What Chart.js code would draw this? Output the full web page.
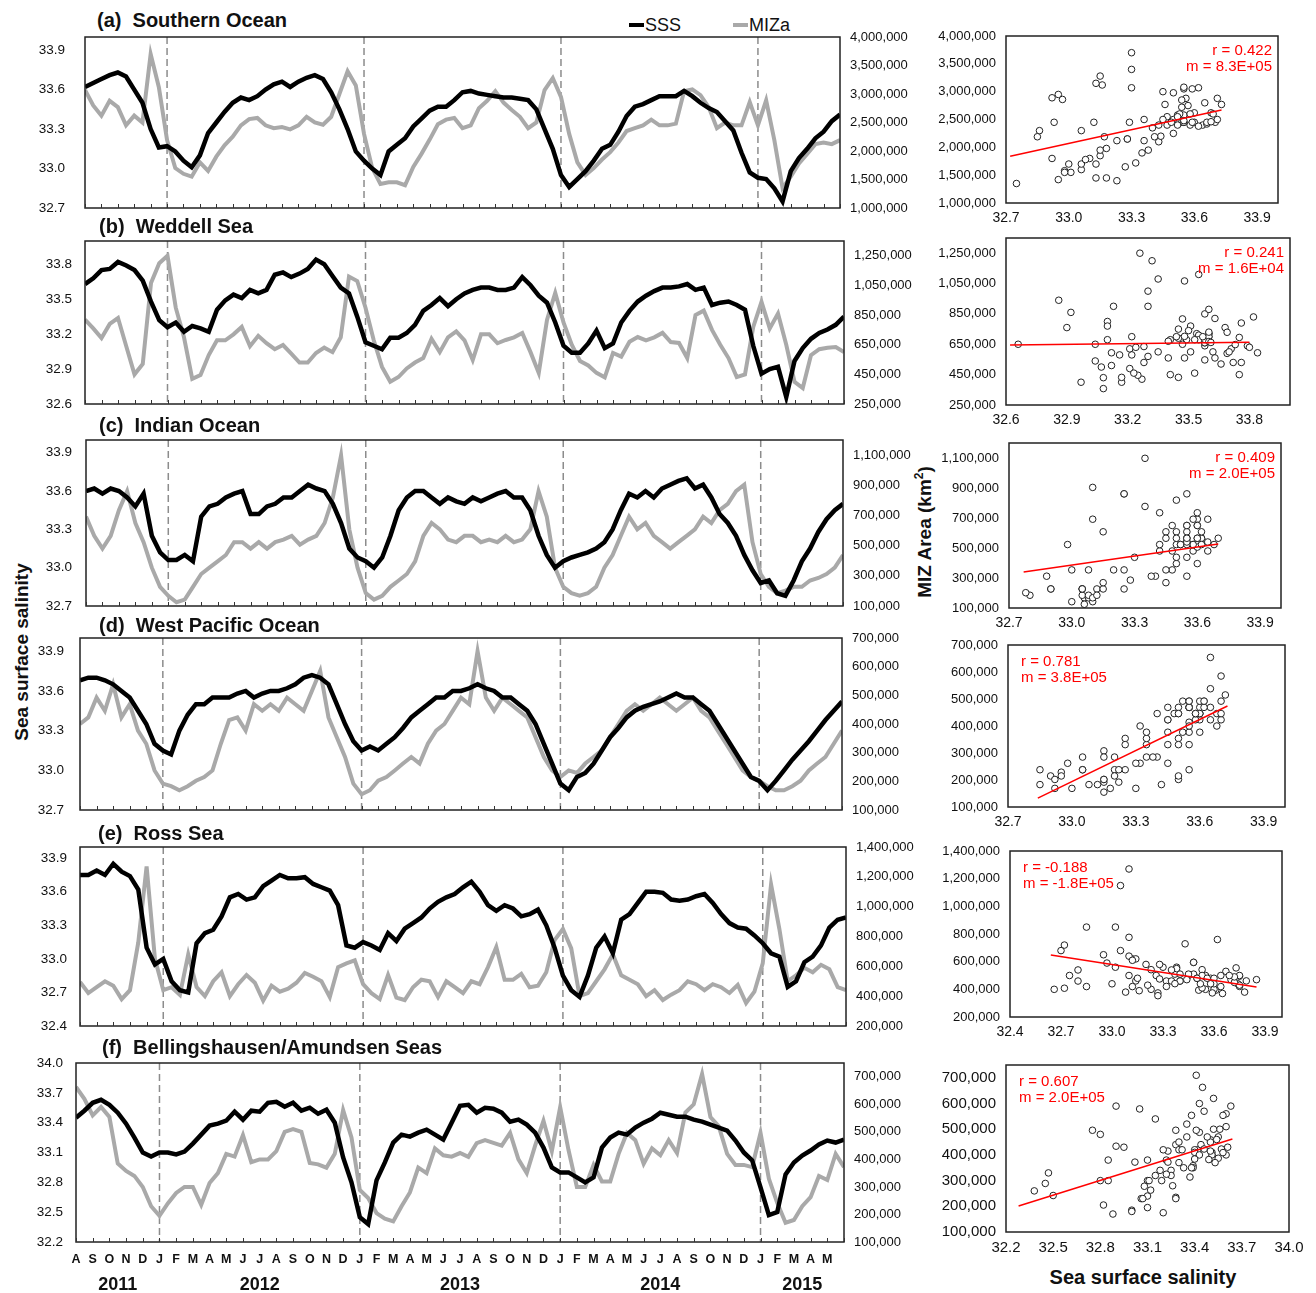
<!DOCTYPE html>
<html>
<head>
<meta charset="utf-8">
<script src="https://cdn.jsdelivr.net/npm/chart.js@4.4.0/dist/chart.umd.min.js"></script>
<style>
  body { margin: 0; background: #fff; width: 1316px; height: 1293px; position: relative; overflow: hidden;
         font-family: "Liberation Sans", Arial, Helvetica, sans-serif; color: #111; }
  .ttl { position: absolute; font-weight: bold; font-size: 20px; line-height: 24px; white-space: pre; }
  .leg { position: absolute; font-size: 18px; line-height: 24px; display: flex; align-items: center; white-space: pre; }
  .sw { display: inline-block; width: 15px; height: 4px; margin-right: 1px; }
  .rot { position: absolute; font-weight: bold; font-size: 19px; white-space: pre; transform: translate(-50%, -50%) rotate(-90deg); }
  .xt { position: absolute; font-weight: bold; font-size: 20px; white-space: pre; transform: translate(-50%, -50%); }
  canvas { position: absolute; }
</style>
</head>
<body>
<div class="leg" style="left:629px;top:13px"><span class="sw" style="background:#000"></span>SSS</div>
<div class="leg" style="left:733px;top:13px"><span class="sw" style="background:#a9a9a9"></span>MIZa</div>
<div class="rot" style="left:22px;top:652px">Sea surface salinity</div>
<div class="rot" style="left:924px;top:532px">MIZ Area (km<sup style="font-size:12px">2</sup>)</div>
<div class="xt" style="left:1143px;top:1277px">Sea surface salinity</div>
<script>
// month ticks Aug 2011 .. May 2015 (one value per month start), samples are twice a month
const monthLetters = ['A','S','O','N','D','J','F','M','A','M','J','J','A','S','O','N','D',
  'J','F','M','A','M','J','J','A','S','O','N','D','J','F','M','A','M','J','J','A','S','O','N','D',
  'J','F','M','A','M'];
const years = ['2011', '2012', '2013', '2014', '2015'];
const yearStarts = [0, 5, 17, 29, 41, 46];   // month index of each January (plus ends)

const titles = ['(a)  Southern Ocean', '(b)  Weddell Sea', '(c)  Indian Ocean',
  '(d)  West Pacific Ocean', '(e)  Ross Sea', '(f)  Bellingshausen/Amundsen Seas'];

// sea surface salinity, semi-monthly
const SSS_A = [33.62,33.65,33.68,33.71,33.73,33.70,33.60,33.50,33.30,33.16,
  33.17,33.13,33.06,33.01,33.10,33.27,33.35,33.43,33.50,33.54,
  33.52,33.55,33.60,33.64,33.66,33.62,33.66,33.69,33.71,33.68,
  33.58,33.45,33.30,33.13,33.06,33.00,32.95,33.13,33.18,33.23,
  33.32,33.38,33.44,33.47,33.47,33.52,33.58,33.59,33.57,33.56,
  33.55,33.54,33.54,33.53,33.52,33.45,33.30,33.15,32.95,32.86,
  32.92,32.98,33.06,33.15,33.18,33.28,33.40,33.47,33.49,33.52,
  33.55,33.55,33.55,33.59,33.55,33.50,33.46,33.43,33.36,33.29,
  33.12,32.97,32.93,32.92,32.85,32.75,32.98,33.08,33.15,33.23,
  33.28,33.36,33.41];
const SSS_B = [33.63,33.68,33.75,33.76,33.82,33.79,33.75,33.66,33.48,33.32,
  33.26,33.30,33.22,33.27,33.25,33.22,33.41,33.49,33.54,33.51,
  33.58,33.55,33.58,33.71,33.73,33.69,33.72,33.76,33.84,33.80,
  33.70,33.60,33.55,33.35,33.13,33.10,33.07,33.17,33.17,33.21,
  33.28,33.40,33.45,33.51,33.44,33.50,33.55,33.58,33.60,33.60,
  33.58,33.58,33.60,33.69,33.62,33.53,33.47,33.30,33.10,33.04,
  33.04,33.12,33.23,33.08,33.12,33.30,33.40,33.48,33.53,33.57,
  33.60,33.60,33.61,33.63,33.58,33.60,33.45,33.47,33.48,33.45,
  33.41,33.10,32.86,32.90,32.92,32.66,32.97,33.08,33.16,33.21,
  33.24,33.28,33.35];
const SSS_C = [33.60,33.62,33.58,33.62,33.60,33.55,33.48,33.58,33.25,33.12,
  33.06,33.06,33.10,33.05,33.40,33.48,33.50,33.55,33.58,33.60,
  33.42,33.42,33.48,33.50,33.55,33.55,33.60,33.65,33.62,33.60,
  33.50,33.35,33.15,33.08,33.05,33.00,33.08,33.25,33.45,33.55,
  33.60,33.60,33.55,33.50,33.55,33.52,33.50,33.55,33.52,33.55,
  33.58,33.60,33.55,33.55,33.45,33.25,33.10,33.00,33.05,33.08,
  33.10,33.12,33.15,33.20,33.30,33.45,33.58,33.55,33.60,33.55,
  33.62,33.65,33.68,33.70,33.62,33.65,33.55,33.42,33.35,33.25,
  33.10,32.98,32.88,32.90,32.80,32.78,32.90,33.05,33.15,33.28,
  33.38,33.45,33.50];
const SSS_D = [33.68,33.70,33.70,33.68,33.65,33.60,33.55,33.45,33.35,33.20,
  33.15,33.12,33.30,33.42,33.50,33.50,33.55,33.55,33.55,33.58,
  33.60,33.55,33.58,33.60,33.60,33.62,33.65,33.70,33.72,33.70,
  33.65,33.50,33.35,33.22,33.15,33.18,33.15,33.20,33.25,33.32,
  33.40,33.45,33.50,33.55,33.55,33.60,33.60,33.62,33.65,33.62,
  33.60,33.55,33.55,33.50,33.45,33.35,33.20,33.05,32.90,32.85,
  32.95,32.98,33.05,33.15,33.25,33.32,33.40,33.45,33.48,33.50,
  33.52,33.55,33.58,33.55,33.55,33.50,33.45,33.35,33.25,33.15,
  33.05,32.95,32.92,32.85,32.92,33.00,33.08,33.15,33.22,33.30,
  33.38,33.45,33.52];
const SSS_E = [33.75,33.75,33.79,33.75,33.85,33.78,33.74,33.62,33.10,32.95,
  33.00,32.80,32.72,32.70,33.14,33.23,33.26,33.38,33.55,33.58,
  33.53,33.55,33.65,33.70,33.75,33.72,33.72,33.73,33.67,33.64,
  33.61,33.48,33.12,33.10,33.15,33.12,33.08,33.23,33.16,33.27,
  33.32,33.37,33.45,33.51,33.55,33.58,33.64,33.69,33.60,33.48,
  33.43,33.48,33.45,33.38,33.40,33.44,33.30,33.10,32.85,32.72,
  32.66,32.85,33.10,33.20,33.05,33.35,33.40,33.50,33.60,33.60,
  33.59,33.53,33.52,33.53,33.56,33.58,33.50,33.40,33.32,33.28,
  33.27,33.21,33.14,33.05,33.02,32.75,32.80,32.97,33.02,33.12,
  33.28,33.35,33.37];
const SSS_F = [33.45,33.52,33.60,33.63,33.58,33.50,33.39,33.25,33.10,33.06,
  33.10,33.10,33.08,33.11,33.19,33.28,33.37,33.39,33.42,33.51,
  33.43,33.52,33.51,33.60,33.61,33.56,33.60,33.52,33.55,33.49,
  33.53,33.40,33.05,32.80,32.45,32.38,32.82,33.00,33.20,33.28,
  33.26,33.30,33.33,33.28,33.23,33.40,33.57,33.58,33.50,33.55,
  33.54,33.50,33.41,33.43,33.38,33.30,33.15,32.95,32.90,32.90,
  32.85,32.80,32.85,33.15,33.25,33.30,33.28,33.35,33.40,33.44,
  33.50,33.48,33.46,33.46,33.43,33.41,33.38,33.35,33.32,33.22,
  33.10,33.02,32.75,32.47,32.50,32.88,33.00,33.07,33.12,33.18,
  33.22,33.20,33.23];

// marginal ice zone area, thousand km2, semi-monthly
const MIZ_A = [3070,2800,2620,2880,2770,2450,2620,2500,3700,3120,
  2190,1700,1600,1550,1800,1650,1900,2100,2250,2450,
  2560,2580,2450,2400,2420,2380,2450,2600,2500,2460,
  2600,3000,3400,3150,2300,1700,1420,1450,1450,1400,
  1720,1950,2200,2470,2550,2580,2400,2450,2750,2880,
  3050,2850,2720,2600,2400,2500,3070,3280,2950,2300,
  1800,1580,1700,1850,1980,2150,2350,2400,2450,2550,
  2450,2450,2480,3050,3080,2980,2770,2400,2500,2450,
  2450,2860,2450,2890,2190,1350,1550,1780,1950,2120,
  2150,2120,2190];
const MIZ_B = [820,760,695,790,830,640,450,520,1067,1200,
  1250,900,700,420,446,580,680,680,720,770,
  640,710,660,620,648,590,530,530,594,630,
  600,700,1110,1080,900,680,500,400,432,490,
  530,560,690,600,700,740,680,547,720,720,
  660,682,700,729,600,460,817,1000,800,650,
  540,510,460,430,594,570,670,702,680,700,
  730,668,662,560,850,880,750,650,560,432,
  450,770,940,760,860,650,400,358,580,620,
  630,635,600];
const MIZ_C = [692,565,480,565,735,861,650,523,354,227,
  168,125,142,227,312,354,396,438,523,523,
  480,523,480,523,540,565,506,540,565,650,
  819,1098,608,354,185,142,168,227,269,312,
  396,565,650,608,540,523,565,565,523,540,
  523,565,523,540,608,861,692,354,227,185,
  168,185,227,354,438,565,692,608,650,565,
  523,480,523,565,608,692,650,735,777,861,
  904,523,312,227,185,202,227,227,269,286,
  312,354,438];
const MIZ_D = [400,423,492,446,538,423,469,377,331,238,
  192,183,169,183,202,215,238,331,414,423,
  377,469,446,469,446,492,469,446,515,585,
  423,354,285,192,155,169,202,215,238,262,
  285,262,331,377,400,446,492,469,654,492,
  446,492,469,446,423,354,285,238,215,238,
  229,262,285,308,354,400,446,469,446,469,
  492,469,446,469,492,446,423,377,331,285,
  238,215,202,183,169,169,183,202,238,262,
  285,331,377];
const MIZ_E = [495,421,461,500,470,380,440,760,1270,650,
  440,460,408,680,461,400,500,560,400,480,
  542,490,370,470,430,450,490,555,530,500,
  394,595,620,640,480,420,380,542,390,374,
  460,510,500,394,500,460,420,500,480,595,
  729,510,510,550,460,470,560,776,850,720,
  400,420,500,580,680,540,510,480,400,440,
  374,410,440,500,480,440,480,460,421,475,
  354,430,620,1150,850,500,540,590,560,610,
  580,460,441];
const MIZ_F = [663,620,560,590,554,385,358,340,300,230,
  195,240,278,300,300,235,314,350,420,410,
  488,390,400,400,430,500,510,500,387,382,
  370,420,579,480,289,260,205,185,175,230,
  280,370,350,440,415,410,423,409,459,470,
  460,450,496,400,350,450,540,430,590,434,
  300,300,380,320,320,420,496,470,384,440,
  415,470,423,570,600,710,554,520,420,380,
  380,372,496,330,242,170,180,230,263,340,
  325,420,372];

const sssSeries = [SSS_A, SSS_B, SSS_C, SSS_D, SSS_E, SSS_F];
const mizSeries = [MIZ_A, MIZ_B, MIZ_C, MIZ_D, MIZ_E, MIZ_F];

// axis ranges and ticks
const sssRange = [[32.7,34.0],[32.6,34.0],[32.7,34.0],[32.7,34.0],[32.4,34.0],[32.2,34.0]];
const sssTicks = [
  [32.7,33.0,33.3,33.6,33.9], [32.6,32.9,33.2,33.5,33.8], [32.7,33.0,33.3,33.6,33.9],
  [32.7,33.0,33.3,33.6,33.9], [32.4,32.7,33.0,33.3,33.6,33.9], [32.2,32.5,32.8,33.1,33.4,33.7,34.0]];
const mizRange = [[1000,4000],[250,1350],[100,1200],[100,700],[200,1400],[100,750]];
const mizTicks = [
  [1000,1500,2000,2500,3000,3500,4000], [250,450,650,850,1050,1250],
  [100,300,500,700,900,1100], [100,200,300,400,500,600,700],
  [200,400,600,800,1000,1200,1400], [100,200,300,400,500,600,700]];

// regression lines [sss0, miz0, sss1, miz1] and statistics
const fitLines = [[32.72,1840,33.73,2670],[32.62,645,33.80,664],[32.77,340,33.70,527],
  [32.84,133,33.73,474],[32.64,648,33.85,417],[32.28,201,33.64,462]];
const fitR = ['r = 0.422','r = 0.241','r = 0.409','r = 0.781','r = -0.188','r = 0.607'];
const fitM = ['m = 8.3E+05','m = 1.6E+04','m = 2.0E+05','m = 3.8E+05','m = -1.8E+05','m = 2.0E+05'];

// layout: plot area boxes [left, top, right, bottom]
const tsBox = [[85,37,840,208],[85,241,844,404],[86,440,843,606],[80,638,842,810],[80,847,846,1026],[76,1063,844,1242]];
const scBox = [[1006,36,1278,203],[1006,238,1290,405],[1009,443,1281,608],[1008,645,1285,807],[1010,851,1282,1017],[1006,1065,1289,1232]];
const titlePos = [[97,8],[99,214],[99,413],[99,613],[98,821],[102,1035]];
const leftPad = [20,13,14,16,13,13];

Chart.defaults.font.family = '"Liberation Sans", Arial, Helvetica, sans-serif';
Chart.defaults.color = '#111';

const fmtK = v => String(Math.round(v * 1000)).replace(/\B(?=(\d{3})+(?!\d))/g, ',');

function place(x, y, w, h) {
  const c = document.createElement('canvas');
  c.width = w; c.height = h;
  c.style.left = x + 'px'; c.style.top = y + 'px';
  c.style.width = w + 'px'; c.style.height = h + 'px';
  document.body.appendChild(c);
  return c;
}

// fixed axis sizes, no extra padding from label overflow
function fixSize(w, h) {
  return s => {
    if (w !== null) s.width = w;
    if (h !== null) s.height = h;
    s.paddingTop = 0; s.paddingBottom = 0; s.paddingLeft = 0; s.paddingRight = 0;
  };
}

const frame = {
  id: 'frame',
  afterDatasetsDraw(c) {
    const a = c.chartArea, ctx = c.ctx;
    ctx.save();
    ctx.strokeStyle = '#222';
    ctx.lineWidth = 1.5;
    ctx.strokeRect(a.left, a.top, a.right - a.left, a.bottom - a.top);
    ctx.restore();
  }
};

// month tick marks pointing into the plot, dashed lines at each January
const monthMarks = {
  id: 'monthMarks',
  beforeDatasetsDraw(c) {
    const a = c.chartArea, ctx = c.ctx, x = c.scales.x;
    ctx.save();
    ctx.strokeStyle = '#8c8c8c';
    ctx.lineWidth = 1.5;
    ctx.setLineDash([7, 4]);
    yearStarts.slice(1, -1).forEach(m => {
      const px = x.getPixelForValue(m);
      ctx.beginPath(); ctx.moveTo(px, a.top); ctx.lineTo(px, a.bottom); ctx.stroke();
    });
    ctx.restore();
  },
  afterDatasetsDraw(c) {
    const a = c.chartArea, ctx = c.ctx, x = c.scales.x;
    ctx.save();
    ctx.strokeStyle = '#333';
    ctx.lineWidth = 1;
    x.ticks.forEach(t => {
      const px = Math.round(x.getPixelForValue(t.value)) + 0.5;
      ctx.beginPath(); ctx.moveTo(px, a.bottom); ctx.lineTo(px, a.bottom - 4); ctx.stroke();
    });
    ctx.restore();
  }
};

const yearLabels = {
  id: 'yearLabels',
  afterDraw(c) {
    const ctx = c.ctx, x = c.scales.x;
    ctx.save();
    ctx.font = 'bold 18px "Liberation Sans", Arial, sans-serif';
    ctx.fillStyle = '#111';
    ctx.textAlign = 'center';
    ctx.textBaseline = 'middle';
    years.forEach((y, k) => {
      const mid = (yearStarts[k] + yearStarts[k + 1]) / 2;
      ctx.fillText(y, x.getPixelForValue(mid), c.chartArea.bottom + 43);
    });
    ctx.restore();
  }
};

function fitText(i) {
  return {
    id: 'fitText',
    afterDatasetsDraw(c) {
      const a = c.chartArea, ctx = c.ctx;
      ctx.save();
      ctx.font = '15px "Liberation Sans", Arial, sans-serif';
      ctx.fillStyle = '#ff0000';
      ctx.textBaseline = 'middle';
      if (i < 3) {
        ctx.textAlign = 'right';
        ctx.fillText(fitR[i], a.right - 6, a.top + 15);
        ctx.fillText(fitM[i], a.right - 6, a.top + 31);
      } else {
        ctx.textAlign = 'left';
        ctx.fillText(fitR[i], a.left + 13, a.top + 17);
        ctx.fillText(fitM[i], a.left + 13, a.top + 33);
      }
      ctx.restore();
    }
  };
}

function timeSeries(i) {
  const [L, T, R, B] = tsBox[i];
  const last = i === 5;
  const lw = 70, rw = 90, padTop = 12, xh = last ? 58 : 12;
  const cv = place(L - lw, T - padTop, R - L + lw + rw, B - T + padTop + xh);
  const sss = sssSeries[i], miz = mizSeries[i];
  const t = sss.map((_, k) => k / 2);
  new Chart(cv, {
    type: 'line',
    data: {
      datasets: [
        { label: 'SSS', data: t.map((x, k) => ({ x, y: sss[k] })), yAxisID: 'y',
          borderColor: '#000', borderWidth: 4.5, pointRadius: 0, clip: 0 },
        { label: 'MIZa', data: t.map((x, k) => ({ x, y: miz[k] })), yAxisID: 'y2',
          borderColor: '#a9a9a9', borderWidth: 4, pointRadius: 0, clip: 0 }
      ]
    },
    options: {
      responsive: false, animation: false, devicePixelRatio: 1,
      layout: { padding: { top: padTop, left: 0, right: 0, bottom: 0 } },
      plugins: { legend: { display: false }, tooltip: { enabled: false } },
      scales: {
        x: {
          type: 'linear', min: 0, max: 46,
          afterBuildTicks: s => { s.ticks = monthLetters.map((_, k) => ({ value: k })).concat([{ value: 46 }]); },
          afterFit: fixSize(null, xh),
          grid: { display: false, drawTicks: false },
          border: { display: false },
          ticks: { display: last, autoSkip: false, maxRotation: 0, padding: 10,
                   font: { size: 12.5, weight: 'bold' }, callback: v => monthLetters[v] || '' }
        },
        y: {
          position: 'left', min: sssRange[i][0], max: sssRange[i][1],
          afterBuildTicks: s => { s.ticks = sssTicks[i].map(v => ({ value: v })); },
          afterFit: fixSize(lw, null),
          grid: { display: false, drawTicks: false }, border: { display: false },
          ticks: { padding: leftPad[i], font: { size: 13.5 }, callback: v => v.toFixed(1) }
        },
        y2: {
          position: 'right', min: mizRange[i][0], max: mizRange[i][1],
          afterBuildTicks: s => { s.ticks = mizTicks[i].map(v => ({ value: v })); },
          afterFit: fixSize(rw, null),
          grid: { display: false, drawTicks: false }, border: { display: false },
          ticks: { padding: 10, font: { size: 13 }, callback: fmtK }
        }
      }
    },
    plugins: last ? [frame, monthMarks, yearLabels] : [frame, monthMarks]
  });
}

function scatter(i) {
  const [L, T, R, B] = scBox[i];
  const lw = 80, rw = 14, padTop = 12, xh = 28;
  const cv = place(L - lw, T - padTop, R - L + lw + rw, B - T + padTop + xh);
  const sss = sssSeries[i], miz = mizSeries[i];
  const f = fitLines[i];
  const big = i === 5;
  new Chart(cv, {
    type: 'scatter',
    data: {
      datasets: [
        { data: [{ x: f[0], y: f[1] }, { x: f[2], y: f[3] }], showLine: true,
          borderColor: '#ff0000', borderWidth: 1.5, pointRadius: 0 },
        { data: sss.map((x, k) => ({ x, y: miz[k] })), pointRadius: 3.3, borderWidth: 1,
          borderColor: '#222', backgroundColor: '#fff' }
      ]
    },
    options: {
      responsive: false, animation: false, devicePixelRatio: 1,
      layout: { padding: { top: padTop, left: 0, right: rw, bottom: 0 } },
      plugins: { legend: { display: false }, tooltip: { enabled: false } },
      scales: {
        x: {
          type: 'linear', min: sssRange[i][0], max: sssRange[i][1],
          afterBuildTicks: s => { s.ticks = sssTicks[i].map(v => ({ value: v })); },
          afterFit: fixSize(null, xh),
          grid: { display: false, drawTicks: false }, border: { display: false },
          ticks: { padding: 7, font: { size: big ? 15 : 14 }, callback: v => v.toFixed(1) }
        },
        y: {
          type: 'linear', min: mizRange[i][0], max: mizRange[i][1],
          afterBuildTicks: s => { s.ticks = mizTicks[i].map(v => ({ value: v })); },
          afterFit: fixSize(lw, null),
          grid: { display: false, drawTicks: false }, border: { display: false },
          ticks: { padding: 10, font: { size: big ? 15 : 13 }, callback: fmtK }
        }
      }
    },
    plugins: [frame, fitText(i)]
  });
}

titles.forEach((txt, i) => {
  const d = document.createElement('div');
  d.className = 'ttl';
  d.textContent = txt;
  d.style.left = titlePos[i][0] + 'px';
  d.style.top = titlePos[i][1] + 'px';
  document.body.appendChild(d);
  timeSeries(i);
  scatter(i);
});
</script>
</body>
</html>
